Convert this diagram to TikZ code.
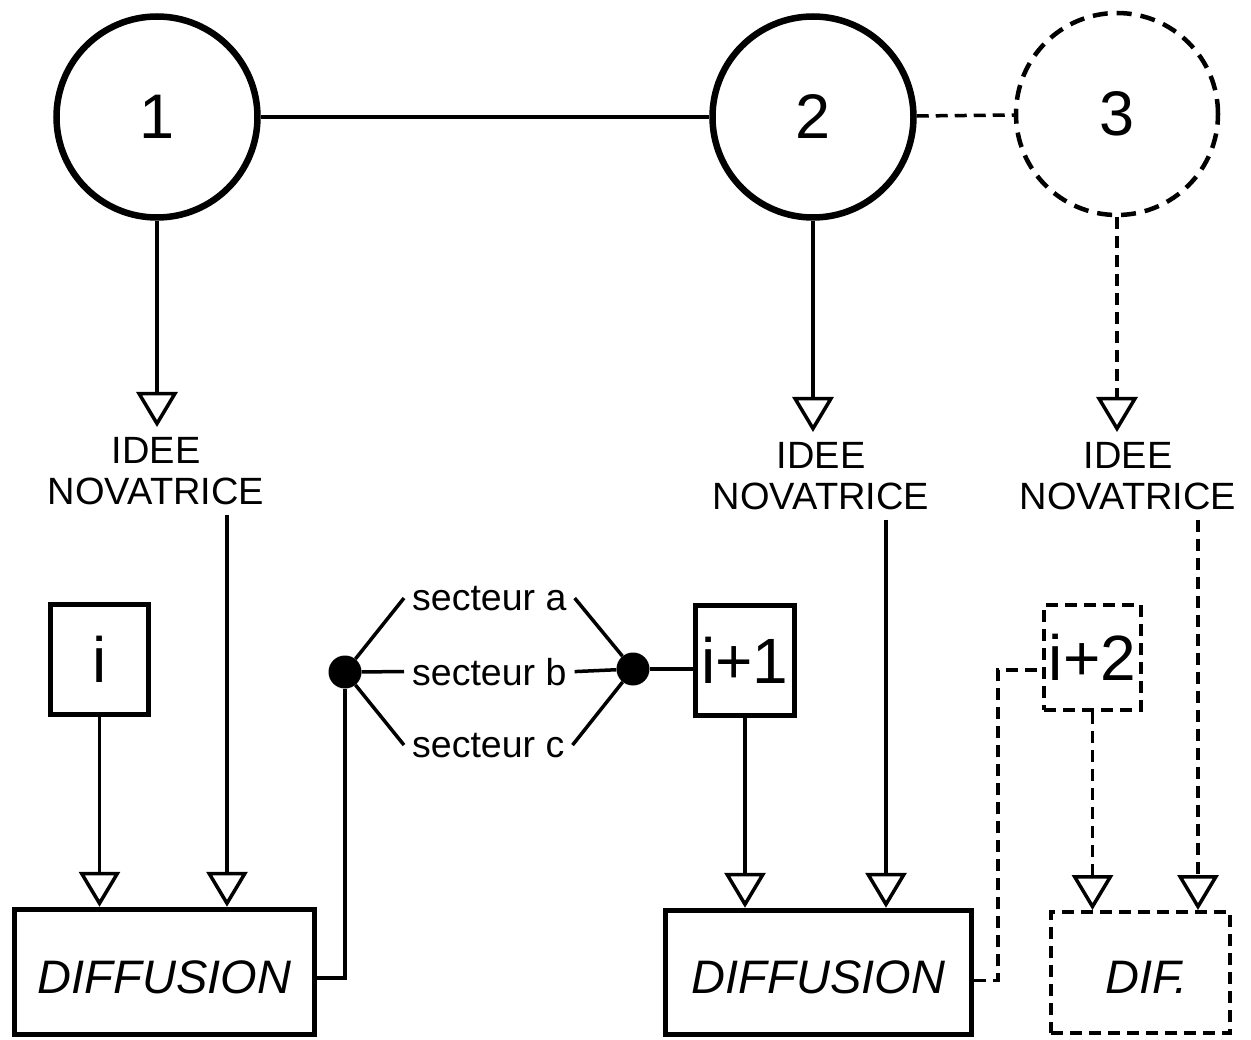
\documentclass[tikz,border=0pt]{standalone}
\usepackage{fontspec}
\setmainfont{Liberation Sans}
\usetikzlibrary{arrows.meta}
\begin{document}
\begin{tikzpicture}[x=1pt,y=-1pt,
  conn/.style={line width=3.5pt},
  dsh/.style={dash pattern=on 12pt off 7pt},
  arr/.style={conn,-{Triangle[open,length=35pt,width=41pt,line width=3.5pt]}},
  ring/.style={circle,draw,line width=6.5pt,minimum size=201pt,inner sep=0pt,font=\fontsize{63}{63}\selectfont},
  dring/.style={circle,draw,line width=4.5pt,minimum size=202pt,inner sep=0pt,dash pattern=on 15pt off 9pt,font=\fontsize{63}{63}\selectfont},
  lbl/.style={align=center,inner sep=0pt,outer ysep=10pt,anchor=north,font=\fontsize{38}{41}\selectfont},
  ibox/.style={draw,line width=5.5pt,inner sep=0pt,font=\fontsize{64}{64}\selectfont},
  dbox/.style={draw,line width=5.5pt,inner sep=0pt,font=\fontsize{47}{47}\selectfont\itshape},
  sect/.style={inner xsep=8pt,inner ysep=0pt,anchor=base west,font=\fontsize{37.5}{40}\selectfont},
  blob/.style={circle,fill,inner sep=0pt,minimum size=33pt},
]
\useasboundingbox (0,0) rectangle (1251,1040);

% circles
\node[ring] (c1) at (157,117) {1};
\node[ring] (c2) at (813,117) {2};
\node[dring] (c3) at (1117,114) {3};

% labels
\node[lbl] (idee1) at (156,427) {IDEE\\NOVATRICE};
\node[lbl] (idee2) at (821,432) {IDEE\\NOVATRICE};
\node[lbl] (idee3) at (1128,432) {IDEE\\NOVATRICE};

% small boxes
\node[ibox,minimum width=98pt,minimum height=110pt] (bi) at (99.5,659.5) {i};
\node[ibox,minimum width=99pt,minimum height=110pt] (bi1) at (745,660.5) {i+1};
\node[ibox,line width=4pt,dsh,minimum width=97pt,minimum height=105pt] (bi2) at (1092.5,657.5) {i+2};

% diffusion boxes
\node[dbox,minimum width=300pt,minimum height=125pt] (diff1) at (164.5,972) {\raisebox{-5pt}[\height][0pt]{DIFFUSION}};
\node[dbox,minimum width=306pt,minimum height=124pt] (diff2) at (818.5,972.5) {\raisebox{-5pt}[\height][0pt]{DIFFUSION}};
\node[dbox,line width=4pt,dsh,minimum width=179pt,minimum height=121pt] (dif3) at (1140.5,972.5) {\raisebox{-5pt}[\height][0pt]{\hspace*{12pt}DIF.}};

% dots and sectors
\node[blob] (dot1) at (345,672) {};
\node[blob] (dot2) at (633,669) {};
\node[sect] (sa) at (404,610) {secteur a};
\node[sect] (sb) at (404,685) {secteur b};
\node[sect] (sc) at (404,757) {secteur c};

% connectors top
\draw[conn] (c1) -- (c2);
\draw[conn,dsh] (c2) -- (c3);
\draw[arr] (c1.south) -- (c1.south |- idee1.north);
\draw[arr] (c2.south) -- (c2.south |- idee2.north);
\draw[arr,dsh] (c3.south) -- (c3.south |- idee3.north);

% idee to diffusion
\coordinate (t1) at ([xshift=71pt]idee1.south);
\coordinate (t2) at ([xshift=65pt]idee2.south);
\coordinate (t3) at ([xshift=70pt]idee3.south);
\draw[arr] (t1) -- (t1 |- diff1.north);
\draw[arr] (t2) -- (t2 |- diff2.north);
\draw[arr,dsh] (t3) -- (t3 |- dif3.north);

% boxes to diffusion
\draw[arr] (bi.south) -- (bi.south |- diff1.north);
\draw[arr] (bi1.south) -- (bi1.south |- diff2.north);
\draw[arr,dsh] (bi2.south) -- (bi2.south |- dif3.north);

% diffusion 1 to sectors
\draw[conn] ([yshift=-6pt]diff1.east) -| (dot1);
\draw[conn] (dot1) -- (sa.west);
\draw[conn] (dot1) -- (sb.west);
\draw[conn] (dot1) -- (sc.west);
\draw[conn] (sa.east) -- (dot2);
\draw[conn] (sb.east) -- (dot2);
\draw[conn] (sc.east) -- (dot2);
\draw[conn] (dot2) -- (dot2 -| bi1.west);

% diffusion 2 to i+2
\coordinate (k) at (998,670);
\draw[conn,dsh] ([yshift=-8pt]diff2.east) -| (k) -- (k -| bi2.west);
\end{tikzpicture}
\end{document}
